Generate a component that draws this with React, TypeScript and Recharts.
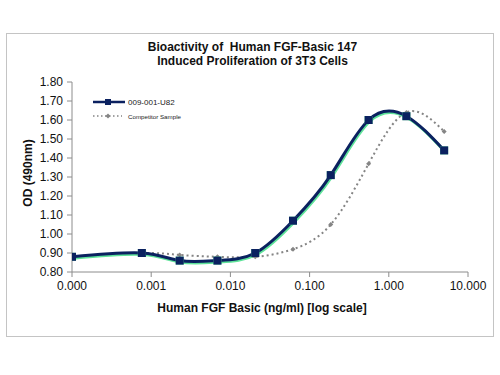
import { LineChart, Line, XAxis, YAxis, Legend } from "recharts";

const concentrations = [0.0001, 0.000762, 0.00229, 0.00686, 0.0206, 0.0617, 0.185, 0.556, 1.667, 5.0];
const sampleOD = [0.88, 0.9, 0.86, 0.86, 0.9, 1.07, 1.31, 1.6, 1.62, 1.44];
const competitorOD = [0.88, 0.9, 0.89, 0.88, 0.88, 0.92, 1.05, 1.37, 1.64, 1.54];
const xTicks = [0.0001, 0.001, 0.01, 0.1, 1, 10];
const yTicks = [0.8, 0.9, 1.0, 1.1, 1.2, 1.3, 1.4, 1.5, 1.6, 1.7, 1.8];

const data = concentrations.map((c, i) => ({
  conc: c,
  sample: sampleOD[i],
  competitor: competitorOD[i],
}));

const NAVY = "#0b2160";
const GLOW = "#5fe39a";
const GREY = "#858585";
const FONT = "'Liberation Sans', Arial, sans-serif";

const SquareDot = (props: any) => {
  const { cx, cy } = props;
  if (cx == null || cy == null) return null;
  return <rect x={cx - 4} y={cy - 4} width={8} height={8} fill={NAVY} />;
};

const GlowDot = (props: any) => {
  const { cx, cy } = props;
  if (cx == null || cy == null) return null;
  return <rect x={cx - 4} y={cy - 4} width={8} height={8} fill={GLOW} />;
};

const DiamondDot = (props: any) => {
  const { cx, cy } = props;
  if (cx == null || cy == null) return null;
  return <path d={`M${cx},${cy - 2.5}L${cx + 2.5},${cy}L${cx},${cy + 2.5}L${cx - 2.5},${cy}Z`} fill={GREY} />;
};

function renderLegend() {
  return (
    <div style={{ fontFamily: FONT, color: "#222" }}>
      <div style={{ display: "flex", alignItems: "center", height: 14 }}>
        <svg width={36} height={10}>
          <line x1={1} y1={5} x2={33} y2={5} stroke={NAVY} strokeWidth={2.5} />
          <rect x={13} y={2} width={6} height={6} fill={NAVY} />
        </svg>
        <span style={{ fontSize: 8 }}>009-001-U82</span>
      </div>
      <div style={{ display: "flex", alignItems: "center", height: 14 }}>
        <svg width={36} height={10}>
          <line x1={1} y1={5} x2={30} y2={5} stroke={GREY} strokeWidth={1.5} strokeDasharray="1.5 2.5" />
          <path d="M16,2.5L18.5,5L16,7.5L13.5,5Z" fill={GREY} />
        </svg>
        <span style={{ fontSize: 6.2 }}>Competitor Sample</span>
      </div>
    </div>
  );
}

export default function App() {
  return (
    <div style={{ position: "absolute", left: 0, top: 0, width: 500, height: 375, background: "#fff", fontFamily: FONT }}>
      <style>{`.glow-line { transform: translate(1px, 1.5px); }`}</style>
      <div
        style={{
          position: "absolute",
          left: 6,
          top: 33,
          width: 486,
          height: 302,
          border: "1.5px solid #c4c4c4",
        }}
      />
      <div
        style={{
          position: "absolute",
          left: 0,
          top: 40,
          width: 505,
          textAlign: "center",
          fontWeight: "bold",
          fontSize: 12,
          lineHeight: "14px",
          color: "#111",
        }}
      >
        <div>Bioactivity of&nbsp; Human FGF-Basic 147</div>
        <div>Induced Proliferation of 3T3 Cells</div>
      </div>
      <LineChart
        width={500}
        height={375}
        data={data}
        margin={{ top: 82, right: 32, bottom: 73, left: 12 }}
        style={{ position: "absolute", left: 0, top: 0 }}
      >
        <XAxis
          dataKey="conc"
          type="number"
          scale="log"
          domain={[0.0001, 10]}
          ticks={xTicks}
          interval={0}
          allowDataOverflow
          height={30}
          tickFormatter={(v: number) => v.toFixed(3)}
          tick={{ fontSize: 12, fill: "#111", fontFamily: FONT }}
          tickSize={5}
          tickMargin={4}
          stroke="#8c8c8c"
          label={{
            value: "Human FGF Basic (ng/ml) [log scale]",
            position: "bottom",
            offset: 1,
            dx: -8,
            style: { fontSize: 12, fontWeight: "bold", fill: "#111", fontFamily: FONT },
          }}
        />
        <YAxis
          domain={[0.8, 1.8]}
          ticks={yTicks}
          interval={0}
          width={60}
          tickFormatter={(v: number) => v.toFixed(2)}
          tick={{ fontSize: 12, fill: "#111", fontFamily: FONT }}
          tickSize={5}
          tickMargin={4}
          stroke="#8c8c8c"
          label={{
            value: "OD (490nm)",
            angle: -90,
            position: "insideLeft",
            offset: 16,
            dy: -4,
            textAnchor: "middle",
            style: { fontSize: 12, fontWeight: "bold", fill: "#111", fontFamily: FONT, textAnchor: "middle" },
          }}
        />
        <Legend
          layout="vertical"
          align="center"
          verticalAlign="middle"
          content={renderLegend}
          wrapperStyle={{ position: "absolute", left: 92, top: 95, width: 140, height: 30 }}
        />
        <Line
          dataKey="competitor"
          type="natural"
          stroke={GREY}
          strokeWidth={2}
          strokeDasharray="2 3"
          dot={<DiamondDot />}
          activeDot={false}
          isAnimationActive={false}
          legendType="none"
        />
        <Line
          dataKey="sample"
          className="glow-line"
          type="natural"
          stroke={GLOW}
          strokeWidth={3}
          dot={<GlowDot />}
          activeDot={false}
          isAnimationActive={false}
          legendType="none"
        />
        <Line
          dataKey="sample"
          type="natural"
          stroke={NAVY}
          strokeWidth={3}
          dot={<SquareDot />}
          activeDot={false}
          isAnimationActive={false}
        />
      </LineChart>
    </div>
  );
}
